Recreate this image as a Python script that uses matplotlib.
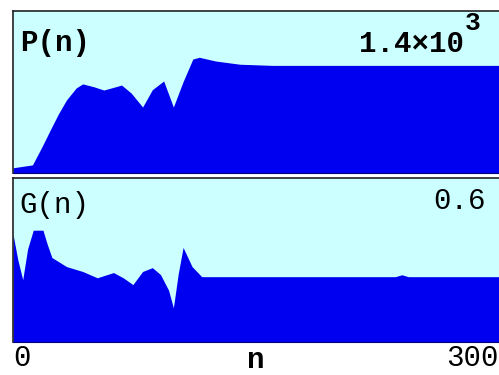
import numpy as np
import matplotlib.pyplot as plt

# P(n): population curve, peak scale 1.4e3
p_n = [0, 12, 18, 23, 28, 33, 39, 43, 50, 56, 62, 67, 73, 80, 86, 93, 99, 105, 111, 115, 125, 140, 160, 300]
p_val = [45, 70, 230, 372, 510, 631, 735, 770, 745, 717, 740, 760, 690, 570, 720, 795, 570, 790, 985, 1000, 968, 940, 930, 930]

# G(n): growth curve, peak scale 0.6
g_n = [0, 3, 6, 9, 12.5, 18.5, 21, 24, 33, 43, 52, 62, 68, 74, 80, 86, 91, 96, 99, 102, 105, 110.5, 116.5, 130,
       236, 240, 244, 300]
g_val = [0.394, 0.30, 0.228, 0.34, 0.409, 0.409, 0.36, 0.309, 0.276, 0.258, 0.235, 0.254, 0.235, 0.21, 0.258,
         0.272, 0.247, 0.19, 0.125, 0.25, 0.346, 0.276, 0.239, 0.239, 0.239, 0.246, 0.239, 0.239]

bg = '#ccffff'
fill = '#0000f0'
mono = 'Liberation Mono'
fs = 21

fig = plt.figure(figsize=(4.99, 3.75), dpi=100)
ax1 = fig.add_axes([13 / 499, 1 - 173 / 375, 1 - 13 / 499, 162 / 375])
ax2 = fig.add_axes([13 / 499, 1 - 342 / 375, 1 - 13 / 499, 164 / 375])

for ax, x, y, top in [(ax1, p_n, p_val, 1400), (ax2, g_n, g_val, 0.6)]:
    ax.set_facecolor(bg)
    ax.fill_between(x, y, 0, color=fill, lw=0)
    ax.set_xlim(0, 300)
    ax.set_ylim(0, top)
    ax.set_xticks([])
    ax.set_yticks([])
    ax.spines['right'].set_visible(False)
    for s in ['top', 'left']:
        ax.spines[s].set_color('#222222')
        ax.spines[s].set_linewidth(1.2)
    ax.spines['bottom'].set_color('#000080')

ax1.text(0.014, 0.753, 'P(n)', transform=ax1.transAxes, family=mono, weight='bold',
         fontsize=fs, va='baseline', ha='left')
# scale label, exponent drawn as its own raised text
ax1.text(0.928, 0.747, '1.4×10', transform=ax1.transAxes, family=mono, weight='bold',
         fontsize=fs, va='baseline', ha='right')
ax1.text(0.929, 0.882, '3', transform=ax1.transAxes, family=mono, weight='bold',
         fontsize=19, va='baseline', ha='left')
ax2.text(0.014, 0.787, 'G(n)', transform=ax2.transAxes, family=mono,
         fontsize=fs, va='baseline', ha='left')
ax2.text(0.972, 0.811, '0.6', transform=ax2.transAxes, family=mono,
         fontsize=fs, va='baseline', ha='right')

fig.text(13 / 499, 1 - 366 / 375, '0', family=mono, fontsize=fs, ha='left', va='baseline')
fig.text(256 / 499, 1 - 368 / 375, 'n', family=mono, weight='bold', fontsize=fs, ha='center', va='baseline')
fig.text(1.0, 1 - 366 / 375, '300', family=mono, fontsize=fs, ha='right', va='baseline')

fig.savefig('out.png', dpi=100, facecolor='white')
